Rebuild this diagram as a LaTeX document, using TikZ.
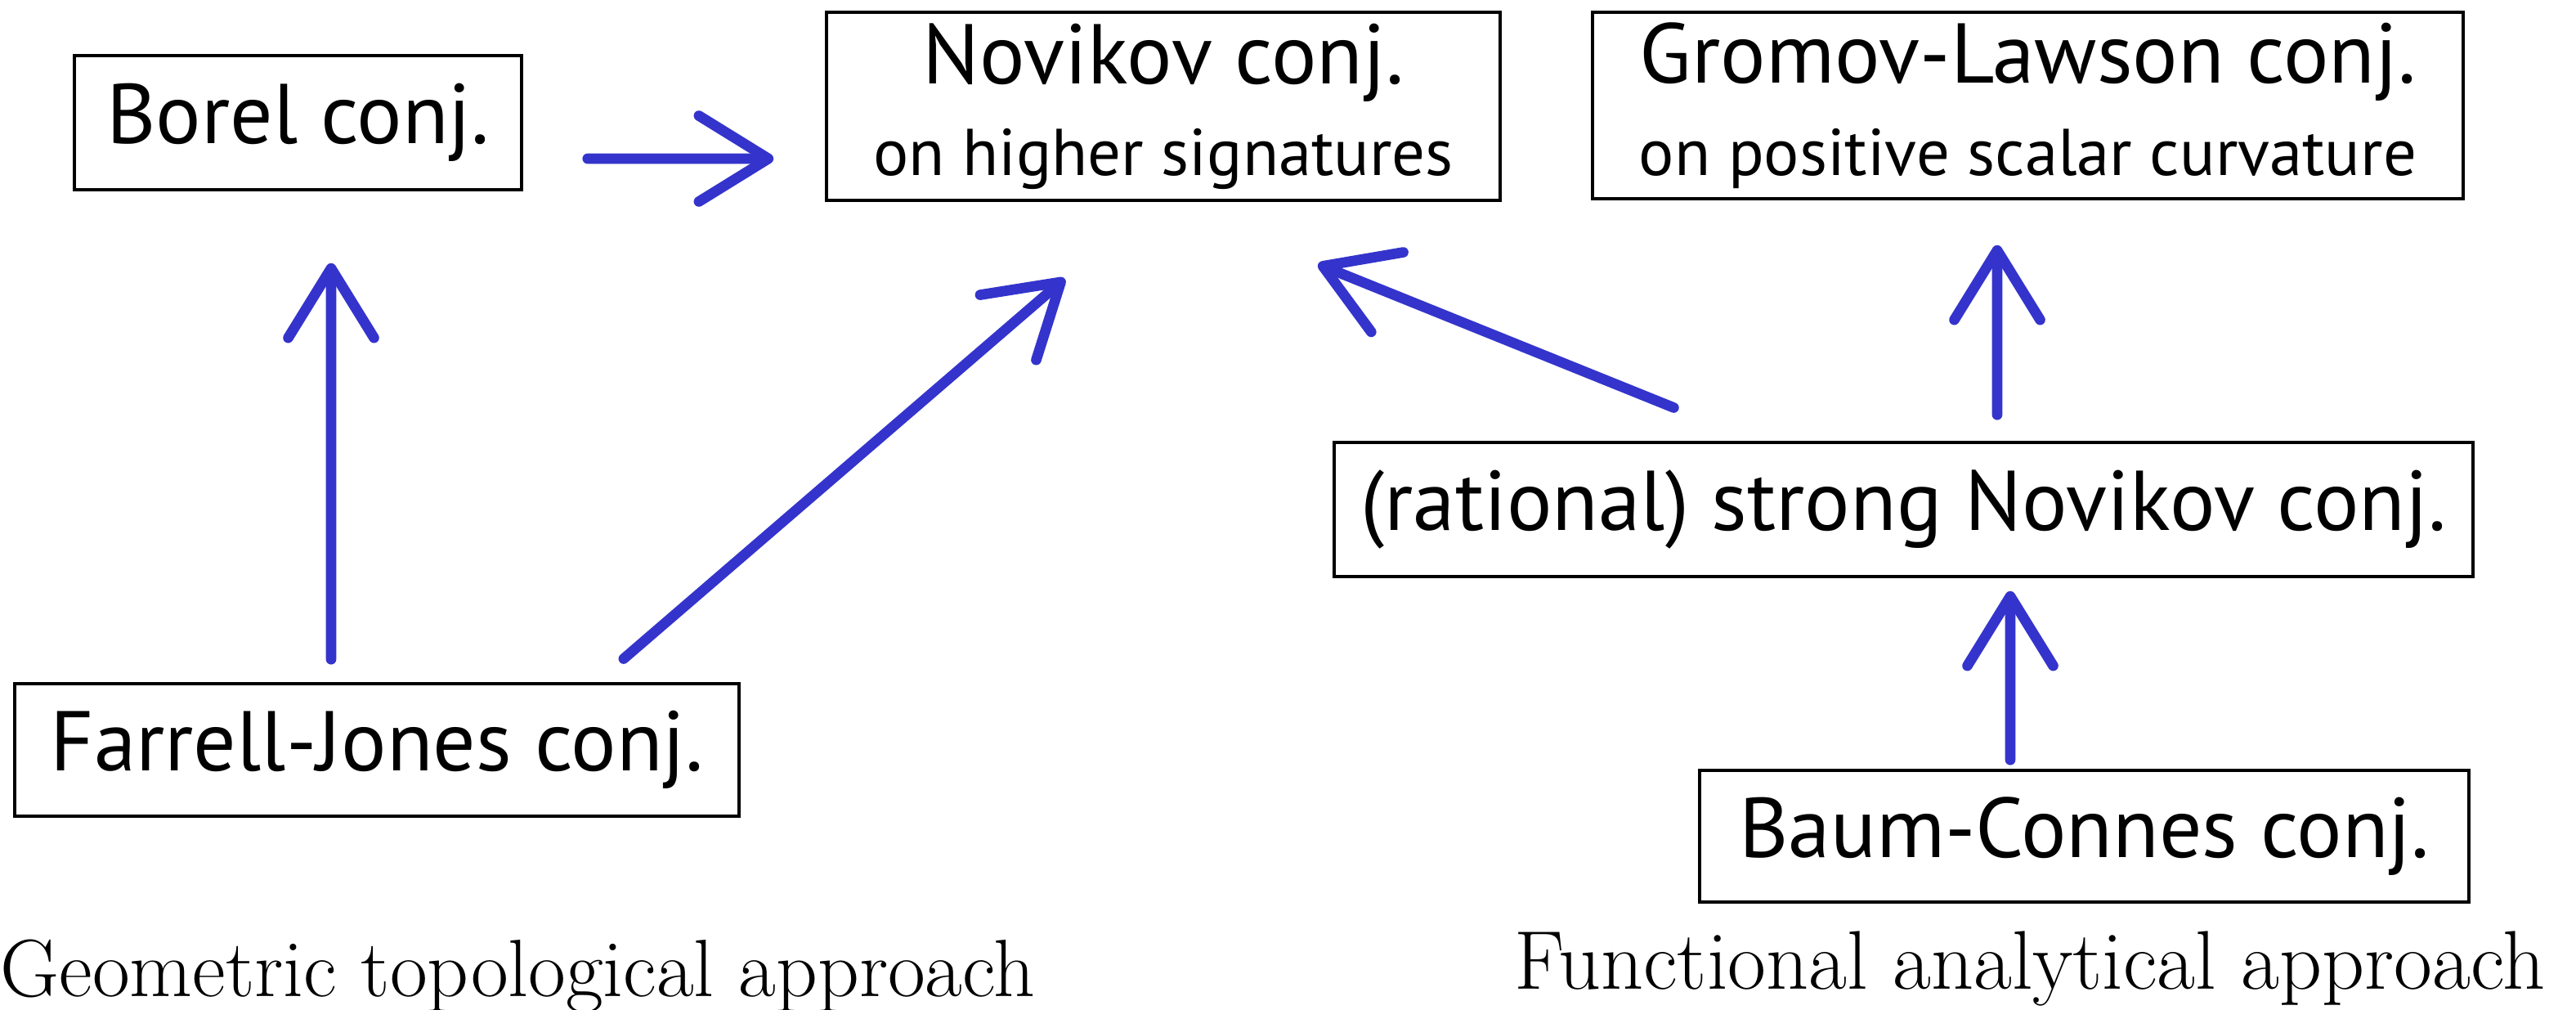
\documentclass[tikz,border=0pt]{standalone}
\usepackage{fontspec}
\usepackage{tikz}
\newfontfamily\boxfont{PT Sans}
\definecolor{white}{rgb}{1.0, 1.0, 1.0}
\definecolor{black}{rgb}{0.0, 0.0, 0.0}
\definecolor{arrowblue}{RGB}{52,52,204}
\usetikzlibrary{arrows.meta}
\pgfdeclarelayer{edgelayer}
\pgfdeclarelayer{nodelayer}
\pgfsetlayers{edgelayer,nodelayer,main}
\tikzstyle{box}=[rectangle,fill=white,draw=black,line width=1pt,align=center,inner sep=0pt,font=\boxfont\fontsize{29.5}{32}\selectfont]
\tikzstyle{arr}=[-{Straight Barb[length=8.5mm,width=10.5mm,round]},draw=arrowblue,line width=3.6pt,line cap=round]
\tikzstyle{caption}=[inner sep=0pt]
\newcommand{\sublabel}[1]{{\fontsize{23}{32}\selectfont #1}}

\begin{document}
\begin{tikzpicture}
        \useasboundingbox (0, 0) rectangle (31.51, 12.34);
        \begin{pgfonlayer}{nodelayer}
            \node [style = box, minimum width=5.47cm, minimum height=1.64cm] (borel) at (3.645, 10.84) {Borel conj.};
            \node [style = box, minimum width=8.24cm, minimum height=2.30cm] (novikov) at (14.23, 11.04) {Novikov conj.\\\sublabel{on higher signatures}};
            \node [style = box, minimum width=10.65cm, minimum height=2.28cm] (gromov) at (24.805, 11.05) {Gromov-Lawson conj.\\\sublabel{on positive scalar curvature}};
            \node [style = box, minimum width=13.93cm, minimum height=1.64cm] (strong) at (23.285, 6.11) {(rational) strong Novikov conj.};
            \node [style = box, minimum width=8.86cm, minimum height=1.62cm] (farrell) at (4.61, 3.17) {Farrell-Jones conj.};
            \node [style = box, minimum width=9.41cm, minimum height=1.61cm] (baum) at (25.495, 2.115) {Baum-Connes conj.};
            \node [style = caption, anchor=base west, font=\fontsize{28.3}{32}\selectfont] (geotop) at (0, 0.16) {Geometric topological approach};
            \node [style = caption, anchor=base east, font=\fontsize{29}{32}\selectfont] (funcan) at (31.14, 0.25) {Functional analytical approach};
        \end{pgfonlayer}

        \begin{pgfonlayer}{edgelayer}
            \draw [style = arr, shorten <=7.9mm, shorten >=6.3mm] ([yshift=-4.4mm]borel.east) to ([yshift=-6.4mm]novikov.west);
            \draw [style = arr, shorten <=2.8mm, shorten >=8.8mm] ([xshift=-5.6mm]farrell.north) to ([xshift=4.05mm]borel.south);
            \draw [style = arr, shorten <=4.4mm, shorten >=14.4mm] ([xshift=26.85mm]farrell.north) to ([xshift=-1.15mm]novikov.south);
            \draw [style = arr, shorten <=10.9mm, shorten >=20.4mm] ([xshift=-18mm]strong.north) to (novikov.south);
            \draw [style = arr, shorten <=3.2mm, shorten >=5.5mm] ([xshift=11.45mm]strong.north) to ([xshift=-3.75mm]gromov.south);
            \draw [style = arr, shorten <=1.1mm, shorten >=1.6mm] ([xshift=-9.05mm]baum.north) to ([xshift=13.05mm]strong.south);
        \end{pgfonlayer}
    \end{tikzpicture}
\end{document}
